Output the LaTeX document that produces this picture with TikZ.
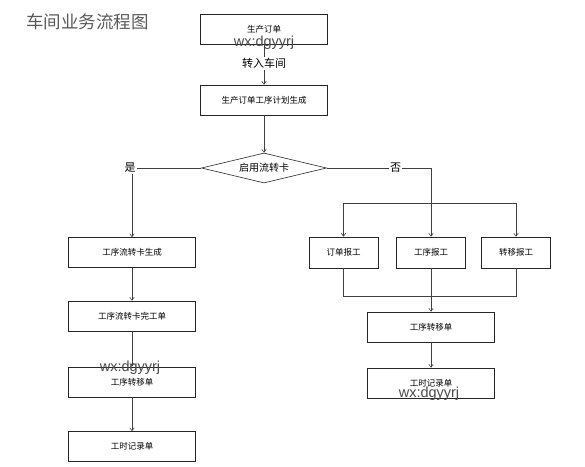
\documentclass[tikz,border=0pt]{standalone}
\usepackage{fontspec}
\setmainfont{Liberation Sans}
\newfontfamily\cjk{Noto Sans CJK SC}
\newfontfamily\wmfont{Liberation Sans}
\usetikzlibrary{shapes.geometric,arrows.meta}
\definecolor{linec}{HTML}{404040}
\definecolor{wmc}{HTML}{4A4A4A}
\begin{document}
\begin{tikzpicture}[x=1pt,y=-1pt,
  box/.style={draw=black!85,line width=0.6pt,minimum width=127pt,minimum height=30pt,inner sep=0pt,font=\cjk\fontsize{8.5}{10}\selectfont},
  sbox/.style={box,minimum width=69pt,minimum height=31pt},
  conn/.style={draw=linec,line width=0.6pt},
  arr/.style={conn,-{Straight Barb[length=3pt,width=4.5pt]}},
  lbl/.style={fill=white,inner sep=1pt,font=\cjk\fontsize{11}{12}\selectfont},
  wm/.style={text=wmc,inner sep=0pt,font=\wmfont\fontsize{14.5}{15}\selectfont}]
\useasboundingbox (0,0) rectangle (585,466);
\node[text=black!65,anchor=west,inner sep=0pt,font=\cjk\fontsize{17.5}{19}\selectfont] (title) at (26,22) {车间业务流程图};
% top column
\node[box] (o1) at (264,29.5) {\raisebox{1pt}{生产订单}};
\node[box] (o2) at (264,100) {生产订单工序计划生成};
\node[diamond,draw=black!85,line width=0.6pt,minimum width=125pt,minimum height=30pt,aspect=4.2,inner sep=0pt,font=\cjk\fontsize{10}{11}\selectfont] (dia) at (264,168) {启用流转卡};
% left column
\node[box] (l1) at (132,252.5) {工序流转卡生成};
\node[box] (l2) at (132,316) {工序流转卡完工单};
\node[box] (l3) at (132,382) {\raisebox{-2pt}{工序转移单}};
\node[box] (l4) at (132,446.5) {工时记录单};
% right part
\node[sbox] (r1) at (343.5,252.5) {订单报工};
\node[sbox] (r2) at (431,252.5) {工序报工};
\node[sbox] (r3) at (516,252.5) {转移报工};
\node[box] (t1) at (431,327) {工序转移单};
\node[box] (t2) at (431,383) {\raisebox{-2pt}{工时记录单}};
\coordinate (tl) at (343.5,203);
\coordinate (tr) at (516,203);
\coordinate (bl) at (343.5,296);
\coordinate (br) at (516,296);
% connectors
\draw[arr] (o1) -- node[lbl,pos=0.47] (zr) {转入车间} (o2);
\draw[arr] (o2) -- (dia);
\draw[arr] (dia.west) -| node[lbl,pos=0.5,xshift=-2pt] (yes) {是} (l1.north);
\draw[arr] (dia.east) -| node[lbl,pos=0.33] (no) {否} (r2.north);
\draw[conn] (tl) -- (tr);
\draw[arr] (tl) -- (r1.north);
\draw[arr] (tr) -- (r3.north);
\draw[conn] (r1.south) |- (bl) -- (br) -- (r3.south);
\draw[arr] (r2.south) -- (t1.north);
\draw[arr] (t1) -- (t2);
\draw[arr] (l1) -- (l2);
\draw[arr] (l2) -- (l3);
\draw[arr] (l3) -- (l4);
% watermarks
\node[wm] (w1) at (264,43) {wx:dgyyrj};
\node[wm] (w2) at (130,368) {wx:dgyyrj};
\node[wm] (w3) at (429,394) {wx:dgyyrj};
\end{tikzpicture}
\end{document}
